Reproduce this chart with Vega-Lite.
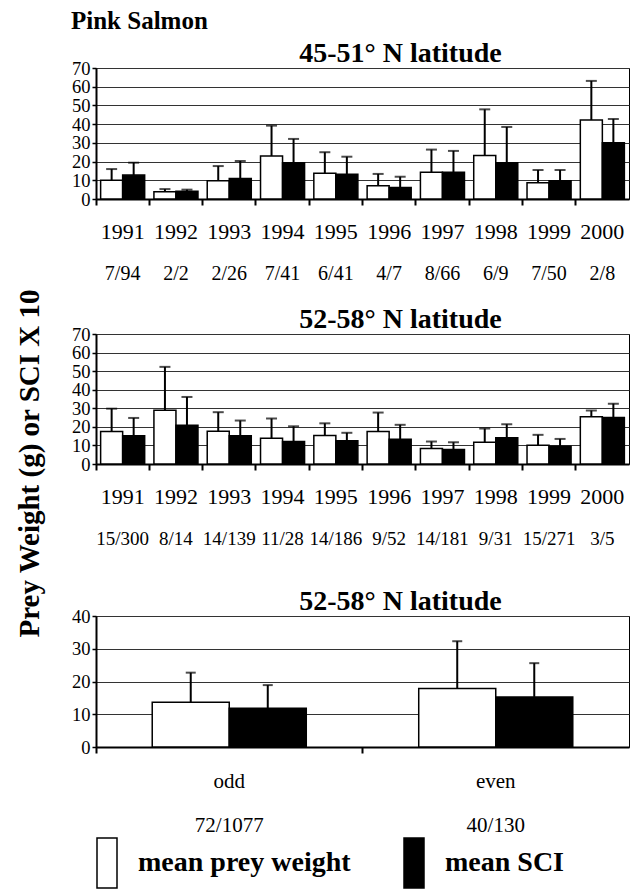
{
  "$schema": "https://vega.github.io/schema/vega-lite/v6.json",
  "padding": {"left": 15, "top": 8, "right": 0, "bottom": 0},
  "title": {"text": "Pink Salmon", "anchor": "start", "frame": "bounds", "fontSize": 25, "fontWeight": "bold", "offset": 6, "dx": 55},
  "datasets": {
    "lat45": [
      {"cat": "1991|7/94", "series": "mean prey weight", "value": 10.0, "upper": 16.0},
      {"cat": "1991|7/94", "series": "mean SCI", "value": 12.8, "upper": 19.4},
      {"cat": "1992|2/2", "series": "mean prey weight", "value": 3.9, "upper": 5.3},
      {"cat": "1992|2/2", "series": "mean SCI", "value": 4.2, "upper": 5.0},
      {"cat": "1993|2/26", "series": "mean prey weight", "value": 9.8, "upper": 17.6},
      {"cat": "1993|2/26", "series": "mean SCI", "value": 11.0, "upper": 20.3},
      {"cat": "1994|7/41", "series": "mean prey weight", "value": 23.0, "upper": 39.2},
      {"cat": "1994|7/41", "series": "mean SCI", "value": 19.4, "upper": 32.1},
      {"cat": "1995|6/41", "series": "mean prey weight", "value": 13.7, "upper": 25.0},
      {"cat": "1995|6/41", "series": "mean SCI", "value": 13.2, "upper": 22.6},
      {"cat": "1996|4/7", "series": "mean prey weight", "value": 7.1, "upper": 13.4},
      {"cat": "1996|4/7", "series": "mean SCI", "value": 6.1, "upper": 11.9},
      {"cat": "1997|8/66", "series": "mean prey weight", "value": 14.3, "upper": 26.4},
      {"cat": "1997|8/66", "series": "mean SCI", "value": 14.3, "upper": 25.7},
      {"cat": "1998|6/9", "series": "mean prey weight", "value": 23.3, "upper": 47.9},
      {"cat": "1998|6/9", "series": "mean SCI", "value": 19.4, "upper": 38.5},
      {"cat": "1999|7/50", "series": "mean prey weight", "value": 8.7, "upper": 15.5},
      {"cat": "1999|7/50", "series": "mean SCI", "value": 9.8, "upper": 15.5},
      {"cat": "2000|2/8", "series": "mean prey weight", "value": 42.2, "upper": 63.1},
      {"cat": "2000|2/8", "series": "mean SCI", "value": 30.1, "upper": 42.8}
    ],
    "lat52": [
      {"cat": "1991|15/300", "series": "mean prey weight", "value": 17.5, "upper": 29.8},
      {"cat": "1991|15/300", "series": "mean SCI", "value": 15.2, "upper": 24.8},
      {"cat": "1992|8/14", "series": "mean prey weight", "value": 28.9, "upper": 52.3},
      {"cat": "1992|8/14", "series": "mean SCI", "value": 20.9, "upper": 36.1},
      {"cat": "1993|14/139", "series": "mean prey weight", "value": 17.6, "upper": 27.9},
      {"cat": "1993|14/139", "series": "mean SCI", "value": 15.2, "upper": 23.4},
      {"cat": "1994|11/28", "series": "mean prey weight", "value": 13.9, "upper": 24.5},
      {"cat": "1994|11/28", "series": "mean SCI", "value": 12.1, "upper": 20.3},
      {"cat": "1995|14/186", "series": "mean prey weight", "value": 15.3, "upper": 21.9},
      {"cat": "1995|14/186", "series": "mean SCI", "value": 12.5, "upper": 16.8},
      {"cat": "1996|9/52", "series": "mean prey weight", "value": 17.5, "upper": 27.7},
      {"cat": "1996|9/52", "series": "mean SCI", "value": 13.3, "upper": 21.1},
      {"cat": "1997|14/181", "series": "mean prey weight", "value": 8.3, "upper": 12.1},
      {"cat": "1997|14/181", "series": "mean SCI", "value": 7.8, "upper": 11.7},
      {"cat": "1998|9/31", "series": "mean prey weight", "value": 11.7, "upper": 19.1},
      {"cat": "1998|9/31", "series": "mean SCI", "value": 14.1, "upper": 21.4},
      {"cat": "1999|15/271", "series": "mean prey weight", "value": 10.1, "upper": 15.7},
      {"cat": "1999|15/271", "series": "mean SCI", "value": 9.6, "upper": 13.5},
      {"cat": "2000|3/5", "series": "mean prey weight", "value": 25.4, "upper": 28.8},
      {"cat": "2000|3/5", "series": "mean SCI", "value": 25.0, "upper": 32.5}
    ],
    "oddeven": [
      {"cat": "odd|72/1077", "series": "mean prey weight", "value": 13.7, "upper": 22.7},
      {"cat": "odd|72/1077", "series": "mean SCI", "value": 11.8, "upper": 18.9},
      {"cat": "even|40/130", "series": "mean prey weight", "value": 17.9, "upper": 32.3},
      {"cat": "even|40/130", "series": "mean SCI", "value": 15.3, "upper": 25.6}
    ]
  },
  "vconcat": [
    {
      "title": {"text": "Prey Weight (g) or SCI X 10", "orient": "left", "anchor": "middle", "frame": "bounds", "fontSize": 29, "fontWeight": "bold", "offset": 26, "dx": 2},
      "spacing": 21,
      "resolve": {"scale": {"fill": "independent", "xOffset": "independent"}, "legend": {"fill": "independent"}},
      "vconcat": [
        {
          "width": 533, "height": 131,
          "title": {"text": "45-51° N latitude", "frame": "group", "anchor": "middle", "dx": 38, "offset": -9, "fontSize": 28},
          "data": {"name": "lat45"},
          "resolve": {"axis": {"x": "independent"}},
          "layer": [
            {
              "mark": {"type": "bar", "stroke": "black", "strokeWidth": 1.5},
              "encoding": {
                "x": {"field": "cat", "type": "nominal", "sort": null, "scale": {"paddingInner": 0, "paddingOuter": 0},
                      "axis": {"orient": "bottom", "title": null, "labels": false, "bandPosition": 0, "tickSize": 6, "tickWidth": 2, "domainWidth": 2, "grid": false}},
                "xOffset": {"field": "series", "type": "nominal", "sort": null, "scale": {"paddingInner": 0, "paddingOuter": 0.21}},
                "y": {"field": "value", "type": "quantitative", "scale": {"domain": [0, 70], "nice": false},
                      "axis": {"orient": "left", "title": null, "values": [0, 10, 20, 30, 40, 50, 60, 70], "labelOverlap": false, "grid": true, "gridWidth": 1, "tickSize": 4, "tickWidth": 1.5, "labelFontSize": 18.5, "labelPadding": 2, "domainWidth": 2}},
                "fill": {"field": "series", "type": "nominal", "sort": null, "scale": {"domain": ["mean prey weight", "mean SCI"], "range": ["white", "black"]}, "legend": null}
              }
            },
            {
              "mark": {"type": "rule", "strokeWidth": 2, "color": "black"},
              "encoding": {
                "x": {"field": "cat", "type": "nominal", "sort": null,
                      "axis": {"orient": "bottom", "title": null, "domain": false, "ticks": false, "grid": false, "labelExpr": "split(datum.value, '|')[0]", "labelFontSize": 22, "labelPadding": 22, "labelAngle": 0}},
                "xOffset": {"field": "series", "type": "nominal", "sort": null, "scale": {"paddingInner": 0, "paddingOuter": 0.21}},
                "y": {"field": "value", "type": "quantitative", "scale": {"domain": [0, 70], "nice": false},
                      "axis": {"orient": "left", "title": null, "values": [0, 10, 20, 30, 40, 50, 60, 70], "labelOverlap": false, "grid": true, "gridWidth": 1, "tickSize": 4, "tickWidth": 1.5, "labelFontSize": 18.5, "labelPadding": 2, "domainWidth": 2}},
                "y2": {"field": "upper"}
              }
            },
            {
              "mark": {"type": "tick", "orient": "horizontal", "size": 11, "thickness": 2, "color": "black"},
              "encoding": {
                "x": {"field": "cat", "type": "nominal", "sort": null,
                      "axis": {"orient": "bottom", "title": null, "domain": false, "ticks": false, "grid": false, "labelExpr": "split(datum.value, '|')[1]", "labelFontSize": 20, "labelPadding": 64, "labelAngle": 0}},
                "xOffset": {"field": "series", "type": "nominal", "sort": null, "scale": {"paddingInner": 0, "paddingOuter": 0.21}},
                "y": {"field": "upper", "type": "quantitative", "scale": {"domain": [0, 70], "nice": false},
                      "axis": {"orient": "left", "title": null, "values": [0, 10, 20, 30, 40, 50, 60, 70], "labelOverlap": false, "grid": true, "gridWidth": 1, "tickSize": 4, "tickWidth": 1.5, "labelFontSize": 18.5, "labelPadding": 2, "domainWidth": 2}}
              }
            }
          ]
        },
        {
          "width": 533, "height": 130,
          "title": {"text": "52-58° N latitude", "frame": "group", "anchor": "middle", "dx": 38, "offset": -9, "fontSize": 28},
          "data": {"name": "lat52"},
          "resolve": {"axis": {"x": "independent"}},
          "layer": [
            {
              "mark": {"type": "bar", "stroke": "black", "strokeWidth": 1.5},
              "encoding": {
                "x": {"field": "cat", "type": "nominal", "sort": null, "scale": {"paddingInner": 0, "paddingOuter": 0},
                      "axis": {"orient": "bottom", "title": null, "labels": false, "bandPosition": 0, "tickSize": 6, "tickWidth": 2, "domainWidth": 2, "grid": false}},
                "xOffset": {"field": "series", "type": "nominal", "sort": null, "scale": {"paddingInner": 0, "paddingOuter": 0.21}},
                "y": {"field": "value", "type": "quantitative", "scale": {"domain": [0, 70], "nice": false},
                      "axis": {"orient": "left", "title": null, "values": [0, 10, 20, 30, 40, 50, 60, 70], "labelOverlap": false, "grid": true, "gridWidth": 1, "tickSize": 4, "tickWidth": 1.5, "labelFontSize": 18.5, "labelPadding": 2, "domainWidth": 2}},
                "fill": {"field": "series", "type": "nominal", "sort": null, "scale": {"domain": ["mean prey weight", "mean SCI"], "range": ["white", "black"]}, "legend": null}
              }
            },
            {
              "mark": {"type": "rule", "strokeWidth": 2, "color": "black"},
              "encoding": {
                "x": {"field": "cat", "type": "nominal", "sort": null,
                      "axis": {"orient": "bottom", "title": null, "domain": false, "ticks": false, "grid": false, "labelExpr": "split(datum.value, '|')[0]", "labelFontSize": 22, "labelPadding": 22, "labelAngle": 0}},
                "xOffset": {"field": "series", "type": "nominal", "sort": null, "scale": {"paddingInner": 0, "paddingOuter": 0.21}},
                "y": {"field": "value", "type": "quantitative", "scale": {"domain": [0, 70], "nice": false},
                      "axis": {"orient": "left", "title": null, "values": [0, 10, 20, 30, 40, 50, 60, 70], "labelOverlap": false, "grid": true, "gridWidth": 1, "tickSize": 4, "tickWidth": 1.5, "labelFontSize": 18.5, "labelPadding": 2, "domainWidth": 2}},
                "y2": {"field": "upper"}
              }
            },
            {
              "mark": {"type": "tick", "orient": "horizontal", "size": 11, "thickness": 2, "color": "black"},
              "encoding": {
                "x": {"field": "cat", "type": "nominal", "sort": null,
                      "axis": {"orient": "bottom", "title": null, "domain": false, "ticks": false, "grid": false, "labelExpr": "split(datum.value, '|')[1]", "labelFontSize": 19, "labelPadding": 65, "labelAngle": 0}},
                "xOffset": {"field": "series", "type": "nominal", "sort": null, "scale": {"paddingInner": 0, "paddingOuter": 0.21}},
                "y": {"field": "upper", "type": "quantitative", "scale": {"domain": [0, 70], "nice": false},
                      "axis": {"orient": "left", "title": null, "values": [0, 10, 20, 30, 40, 50, 60, 70], "labelOverlap": false, "grid": true, "gridWidth": 1, "tickSize": 4, "tickWidth": 1.5, "labelFontSize": 18.5, "labelPadding": 2, "domainWidth": 2}}
              }
            }
          ]
        },
        {
          "width": 533, "height": 131,
          "title": {"text": ["", "52-58° N latitude"], "lineHeight": 17, "frame": "group", "anchor": "middle", "dx": 38, "offset": -9, "fontSize": 28},
          "data": {"name": "oddeven"},
          "resolve": {"axis": {"x": "independent"}},
          "layer": [
            {
              "mark": {"type": "bar", "stroke": "black", "strokeWidth": 1.5},
              "encoding": {
                "x": {"field": "cat", "type": "nominal", "sort": null, "scale": {"paddingInner": 0, "paddingOuter": 0},
                      "axis": {"orient": "bottom", "title": null, "labels": false, "bandPosition": 0, "tickSize": 6, "tickWidth": 2, "domainWidth": 2, "grid": false}},
                "xOffset": {"field": "series", "type": "nominal", "sort": null, "scale": {"paddingInner": 0, "paddingOuter": 0.73}},
                "y": {"field": "value", "type": "quantitative", "scale": {"domain": [0, 40], "nice": false},
                      "axis": {"orient": "left", "title": null, "values": [0, 10, 20, 30, 40], "labelOverlap": false, "grid": true, "gridWidth": 1, "tickSize": 4, "tickWidth": 1.5, "labelFontSize": 18.5, "labelPadding": 2, "domainWidth": 2}},
                "fill": {"field": "series", "type": "nominal", "sort": null, "scale": {"domain": ["mean prey weight", "mean SCI"], "range": ["white", "black"]},
                         "legend": {"orient": "bottom", "direction": "horizontal", "title": null, "symbolType": "M-1,-1H-0.2V1H-1Z", "symbolSize": 2500, "symbolStrokeColor": "black", "symbolStrokeWidth": 1.5, "labelFontSize": 28, "labelFontWeight": "bold", "labelLimit": 400, "labelOffset": -10, "columnPadding": 50, "offset": 2}}
              }
            },
            {
              "mark": {"type": "rule", "strokeWidth": 2, "color": "black"},
              "encoding": {
                "x": {"field": "cat", "type": "nominal", "sort": null,
                      "axis": {"orient": "bottom", "title": null, "domain": false, "ticks": false, "grid": false, "labelExpr": "split(datum.value, '|')[0]", "labelFontSize": 21, "labelPadding": 23, "labelAngle": 0}},
                "xOffset": {"field": "series", "type": "nominal", "sort": null, "scale": {"paddingInner": 0, "paddingOuter": 0.73}},
                "y": {"field": "value", "type": "quantitative", "scale": {"domain": [0, 40], "nice": false},
                      "axis": {"orient": "left", "title": null, "values": [0, 10, 20, 30, 40], "labelOverlap": false, "grid": true, "gridWidth": 1, "tickSize": 4, "tickWidth": 1.5, "labelFontSize": 18.5, "labelPadding": 2, "domainWidth": 2}},
                "y2": {"field": "upper"}
              }
            },
            {
              "mark": {"type": "tick", "orient": "horizontal", "size": 10, "thickness": 2, "color": "black"},
              "encoding": {
                "x": {"field": "cat", "type": "nominal", "sort": null,
                      "axis": {"orient": "bottom", "title": null, "domain": false, "ticks": false, "grid": false, "labelExpr": "split(datum.value, '|')[1]", "labelFontSize": 21, "labelPadding": 67, "labelAngle": 0}},
                "xOffset": {"field": "series", "type": "nominal", "sort": null, "scale": {"paddingInner": 0, "paddingOuter": 0.73}},
                "y": {"field": "upper", "type": "quantitative", "scale": {"domain": [0, 40], "nice": false},
                      "axis": {"orient": "left", "title": null, "values": [0, 10, 20, 30, 40], "labelOverlap": false, "grid": true, "gridWidth": 1, "tickSize": 4, "tickWidth": 1.5, "labelFontSize": 18.5, "labelPadding": 2, "domainWidth": 2}}
              }
            }
          ]
        }
      ]
    }
  ],
  "config": {
    "font": "Liberation Serif",
    "view": {"stroke": "black", "strokeWidth": 1},
    "axis": {"labelFont": "Liberation Serif", "labelColor": "black", "domainColor": "black", "tickColor": "black", "gridColor": "#333333", "titleFont": "Liberation Serif"},
    "title": {"font": "Liberation Serif", "color": "black", "fontWeight": "bold"},
    "legend": {"labelFont": "Liberation Serif", "labelColor": "black"}
  }
}
